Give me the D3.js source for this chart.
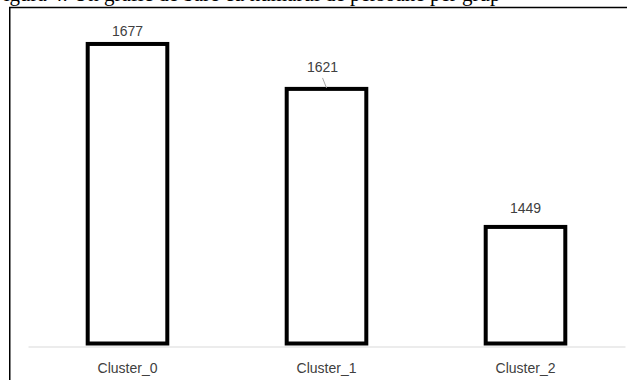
<!DOCTYPE html>
<html>
<head>
<meta charset="utf-8">
<script src="https://cdn.jsdelivr.net/npm/d3@7"></script>
<style>
  html, body { margin: 0; padding: 0; background: #fff; }
  svg { display: block; }
</style>
</head>
<body>
<svg id="chart" width="630" height="380"></svg>
<script>
// ---- data ----
const categories = ["Cluster_0", "Cluster_1", "Cluster_2"];
const counts = [1677, 1621, 1449];
const yDomain = [1300, 1700];
const captionText = "Figura 4. Un grafic de bare cu numărul de persoane per grup";

// ---- label placement style (offsets in px from bar top) ----
const labelDx = [0, -4, 0];
const labelDy = [-8, -17, -13.5];
const leader = [false, true, false];

const W = 630, H = 380;
const svg = d3.select("#chart");

// caption (mostly clipped at the top of the picture)
svg.append("text")
  .attr("x", -8).attr("y", 1)
  .attr("font-family", "Liberation Serif, Times New Roman, serif")
  .attr("font-size", 21)
  .attr("fill", "#000")
  .text(captionText);

// frame lines
svg.append("path")
  .attr("d", "M9.75,380 V7.5 H627")
  .attr("fill", "none")
  .attr("stroke", "#000")
  .attr("stroke-width", 1.5);

const plotLeft = 28, plotRight = 625, baseY = 346.5, topY = 25.5;

const x = d3.scaleBand().domain(categories).range([plotLeft, plotRight]).padding(0);
const y = d3.scaleLinear().domain(yDomain).range([baseY, topY]);

const barW = x.bandwidth() * 0.4;

// axis line
const xAxis = d3.axisBottom(x).tickSize(0).tickPadding(0);
const gx = svg.append("g").attr("transform", `translate(0,${baseY})`).call(xAxis);
gx.select(".domain").attr("stroke", "#d9d9d9").attr("stroke-width", 1.2);
gx.selectAll(".tick text")
  .attr("y", 26)
  .attr("dy", 0)
  .attr("font-family", "Liberation Sans, Arial, sans-serif")
  .attr("font-size", 14)
  .attr("fill", "#404040");

// bars
const data = categories.map((c, i) => ({ c, v: counts[i], i }));
svg.append("g").selectAll("rect")
  .data(data)
  .join("rect")
  .attr("x", d => x(d.c) + x.bandwidth() / 2 - barW / 2)
  .attr("y", d => y(d.v))
  .attr("width", barW)
  .attr("height", d => baseY - 3 - y(d.v))
  .attr("fill", "#fff")
  .attr("stroke", "#000")
  .attr("stroke-width", 4);

// leader lines
svg.append("g").selectAll("line")
  .data(data.filter(d => leader[d.i]))
  .join("line")
  .attr("x1", d => x(d.c) + x.bandwidth() / 2 + labelDx[d.i])
  .attr("y1", d => y(d.v) + labelDy[d.i] + 6)
  .attr("x2", d => x(d.c) + x.bandwidth() / 2)
  .attr("y2", d => y(d.v) - 1)
  .attr("stroke", "#a6a6a6")
  .attr("stroke-width", 1);

// value labels
svg.append("g").selectAll("text")
  .data(data)
  .join("text")
  .attr("x", d => x(d.c) + x.bandwidth() / 2 + labelDx[d.i])
  .attr("y", d => y(d.v) + labelDy[d.i])
  .attr("text-anchor", "middle")
  .attr("font-family", "Liberation Sans, Arial, sans-serif")
  .attr("font-size", 14)
  .attr("fill", "#404040")
  .text(d => d.v);
</script>
</body>
</html>
